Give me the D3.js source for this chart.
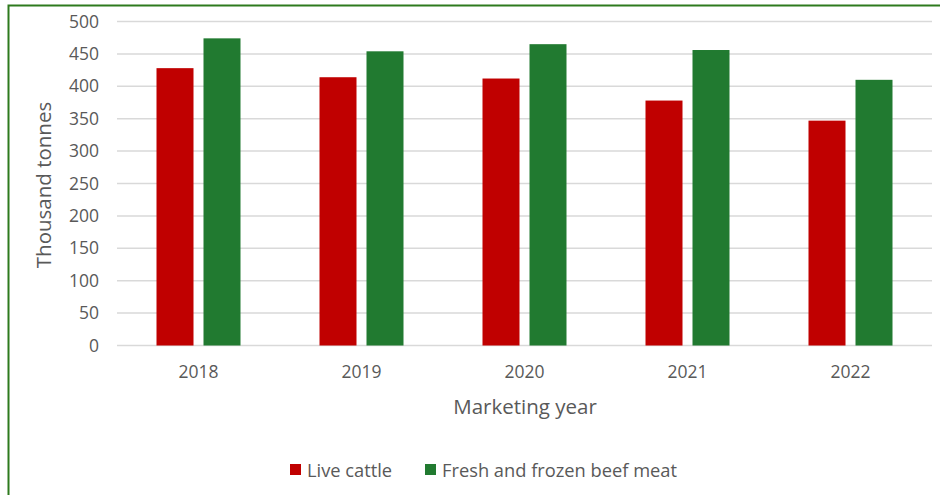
<!DOCTYPE html>
<html><head><meta charset="utf-8">
<script src="https://cdn.jsdelivr.net/npm/d3@7"></script>
<style>
html,body{margin:0;padding:0;background:#fff;}
svg{display:block;font-family:"Open Sans",sans-serif;}
</style></head>
<body>
<svg id="c" width="940" height="495"></svg>
<script>
const years = ["2018","2019","2020","2021","2022"];
const liveCattle = [428, 414, 412, 378, 347];
const beefMeat = [474, 454, 465, 456, 410];
const seriesNames = ["Live cattle","Fresh and frozen beef meat"];
const seriesColors = ["#c00000","#217a30"];
const yTicks = [0,50,100,150,200,250,300,350,400,450,500];

(function(){
const FONT = '"Open Sans",sans-serif';
const svg = d3.select("#c");
// border
svg.append("rect").attr("x",8.5).attr("y",5.5).attr("width",940).attr("height",500)
  .attr("fill","none").attr("stroke","#2e7a1e").attr("stroke-width",2);

const pL=117, pR=932, pT=21.5, pB=345.5;
const x = d3.scaleBand().domain(years).range([pL,pR]);
const y = d3.scaleLinear().domain([0,500]).range([pB,pT]);

// gridlines
svg.append("g").selectAll("line").data(yTicks).join("line")
  .attr("x1",pL).attr("x2",pR)
  .attr("y1",d=>y(d)).attr("y2",d=>y(d))
  .attr("stroke","#d9d9d9").attr("stroke-width",1.5);

// y axis labels
const yAxis = d3.axisLeft(y).tickValues(yTicks).tickSize(0).tickPadding(0);
const gy = svg.append("g").attr("transform",`translate(99,0)`).call(yAxis);
gy.select(".domain").remove();
gy.selectAll("text").attr("font-size",17.5).attr("fill","#595959").attr("font-family",FONT);

// x axis labels
const xAxis = d3.axisBottom(x).tickSize(0).tickPadding(0);
const gx = svg.append("g").attr("transform",`translate(0,${pB+20})`).call(xAxis);
gx.select(".domain").remove();
gx.selectAll("text").attr("font-size",17.5).attr("fill","#595959").attr("font-family",FONT);

// bars
const barW = 37, gap = 10;
const data = [liveCattle, beefMeat];
data.forEach((vals,si)=>{
  svg.append("g").selectAll("rect").data(vals).join("rect")
    .attr("x",(d,i)=>x(years[i])+x.bandwidth()/2 + (si===0 ? -gap/2-barW : gap/2))
    .attr("y",d=>y(d))
    .attr("width",barW)
    .attr("height",d=>y(0)-y(d))
    .attr("fill",seriesColors[si]);
});

// axis titles
svg.append("text").attr("x",525).attr("y",414).attr("text-anchor","middle")
  .attr("font-size",20.5).attr("fill","#595959").text("Marketing year");
svg.append("text").attr("transform","translate(51,185) rotate(-90)").attr("text-anchor","middle")
  .attr("font-size",20.5).attr("fill","#595959").text("Thousand tonnes");

// legend
const legX = [290, 425];
seriesNames.forEach((n,i)=>{
  svg.append("rect").attr("x",legX[i]).attr("y",464).attr("width",11).attr("height",11).attr("fill",seriesColors[i]);
  svg.append("text").attr("x",legX[i]+17).attr("y",476.5).attr("font-size",18.3).attr("fill","#595959").text(n);
});
})();
</script>
</body></html>
